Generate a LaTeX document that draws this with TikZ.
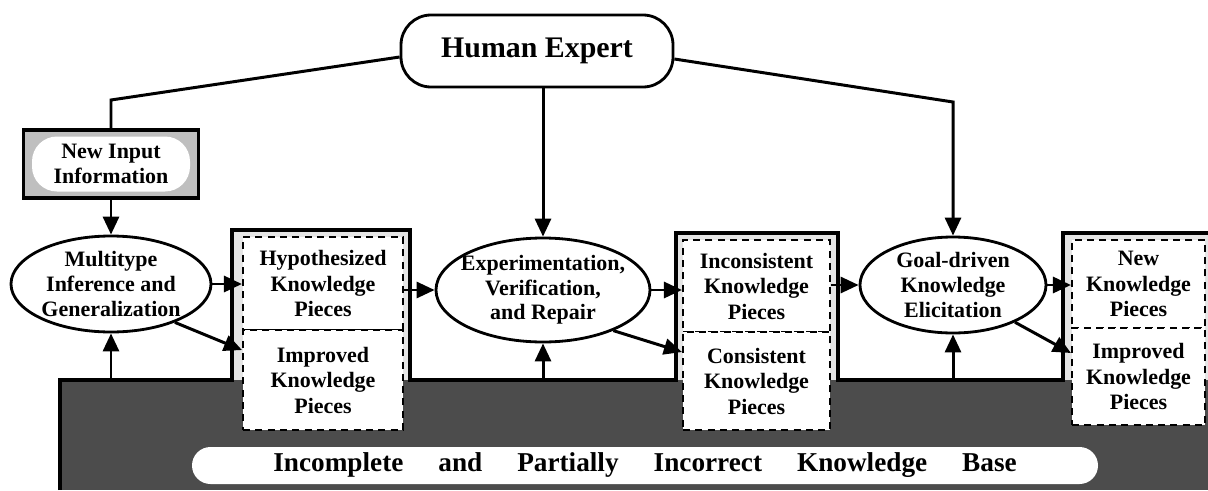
\documentclass[tikz,border=0pt]{standalone}
\usepackage{fontspec}
\setmainfont{Liberation Serif}
\usetikzlibrary{arrows.meta,shapes.geometric}
\tikzset{
  kbdark/.style={fill=black!70},
  tower/.style={fill=black!10},
  frame/.style={draw=black, line width=2.2pt, line join=miter},
  piece/.style={rectangle, draw=black, fill=white, dash pattern=on 4pt off 3pt, line width=1.2pt, inner sep=0pt, align=center, font=\bfseries\fontsize{12.5}{14.5}\selectfont},
  task/.style={ellipse, draw=black, fill=white, line width=1.6pt, inner xsep=-0.3cm, inner ysep=-0.2cm, align=center, font=\bfseries\fontsize{12.5}{14}\selectfont},
  expertbox/.style={rectangle, rounded corners=0.6cm, draw=black, line width=1.6pt, fill=white, minimum width=5.44cm, minimum height=1.44cm, font=\bfseries\fontsize{17}{20}\selectfont},
  inputbox/.style={rectangle, draw=black, line width=2.2pt, fill=black!25, minimum width=3.5cm, minimum height=1.36cm},
  inputin/.style={rectangle, rounded corners=0.5cm, fill=white, minimum width=3.16cm, minimum height=1.1cm, inner sep=0pt, align=center, font=\bfseries\fontsize{12.5}{14}\selectfont},
  kbbar/.style={rectangle, rounded corners=0.37cm, fill=white, minimum width=18.12cm, minimum height=0.74cm, inner sep=0pt, font=\bfseries\fontsize{15.5}{18}\selectfont},
  link/.style={draw=black, line width=1.7pt},
  flow/.style={link, -{Triangle[length=0.36cm, width=0.32cm]}},
}
\begin{document}
\begin{tikzpicture}
\useasboundingbox (0,0) rectangle (24.16,9.80);
\fill[kbdark] (1.20,0) rectangle (24.16,2.20);
\fill[tower] (4.64,2.20) rectangle (8.20,5.20);
\fill[tower] (13.52,2.20) rectangle (16.76,5.14);
\fill[tower] (21.26,2.20) rectangle (24.16,5.14);
\node[piece, minimum width=3.20cm, minimum height=1.86cm] (hyp) at (6.46,4.13) {Hypothesized\\Knowledge\\Pieces};
\node[piece, minimum width=3.20cm, minimum height=2.00cm] (imp1) at (6.46,2.20) {Improved\\Knowledge\\Pieces};
\node[piece, minimum width=2.94cm, minimum height=1.84cm] (inc) at (15.13,4.08) {Inconsistent\\Knowledge\\Pieces};
\node[piece, minimum width=2.94cm, minimum height=1.96cm] (cons) at (15.13,2.18) {Consistent\\Knowledge\\Pieces};
\node[piece, minimum width=2.66cm, minimum height=1.76cm] (new) at (22.77,4.12) {New\\Knowledge\\Pieces};
\node[piece, minimum width=2.66cm, minimum height=1.94cm] (imp3) at (22.77,2.27) {Improved\\Knowledge\\Pieces};
\draw[frame] (1.20,0) -- (1.20,2.20) -- (4.64,2.20) -- (4.64,5.20) -- (8.20,5.20) -- (8.20,2.20) -- (13.52,2.20) -- (13.52,5.14) -- (16.76,5.14) -- (16.76,2.20) -- (21.26,2.20) -- (21.26,5.14) -- (24.16,5.14);
\coordinate (kbtop) at (0,2.20);
\node[kbbar] (kb) at (12.90,0.49) {Incomplete\hspace{0.7cm}and\hspace{0.7cm}Partially\hspace{0.7cm}Incorrect\hspace{0.7cm}Knowledge\hspace{0.7cm}Base};
\node[expertbox] (expert) at (10.74,8.78) {Human Expert};
\node[inputbox] (input) at (2.22,6.52) {};
\node[inputin] (inputtxt) at (input) {New Input\\Information};
\node[task, minimum width=4.00cm, minimum height=1.92cm] (multi) at (2.22,4.12) {Multitype\\Inference and\\Generalization};
\node[task, minimum width=4.28cm, minimum height=2.08cm] (exper) at (10.86,4.00) {Experimentation,\\Verification,\\and Repair};
\node[task, minimum width=3.72cm, minimum height=1.92cm] (goal) at (19.06,4.10) {Goal-driven\\Knowledge\\Elicitation};
\coordinate (bendL) at (2.22,7.80);
\coordinate (bendR) at (19.06,7.76);
\draw[link] ([yshift=-0.12cm]expert.west) -- (bendL) -- (input.north);
\draw[flow] ([yshift=-0.16cm]expert.east) -- (bendR) -- (goal.north);
\draw[flow] (expert.south -| exper.north) -- (exper.north);
\draw[flow] (input.south) -- (multi.north);
\draw[flow] (multi.east) -- (multi.east -| hyp.west);
\draw[flow] (multi.-31) -- ([yshift=0.6cm]imp1.west);
\draw[flow] (multi.south |- kbtop) -- (multi.south);
\draw[flow] (hyp.east |- exper.west) -- (exper.west);
\draw[flow] (exper.east) -- (exper.east -| inc.west);
\draw[flow] (exper.-30) -- ([yshift=0.58cm]cons.west);
\draw[flow] (exper.south |- kbtop) -- (exper.south);
\draw[flow] (inc.east |- goal.west) -- (goal.west);
\draw[flow] (goal.east) -- (goal.east -| new.west);
\draw[flow] (goal.-31) -- ([yshift=0.47cm]imp3.west);
\draw[flow] (goal.south |- kbtop) -- (goal.south);
\end{tikzpicture}
\end{document}
